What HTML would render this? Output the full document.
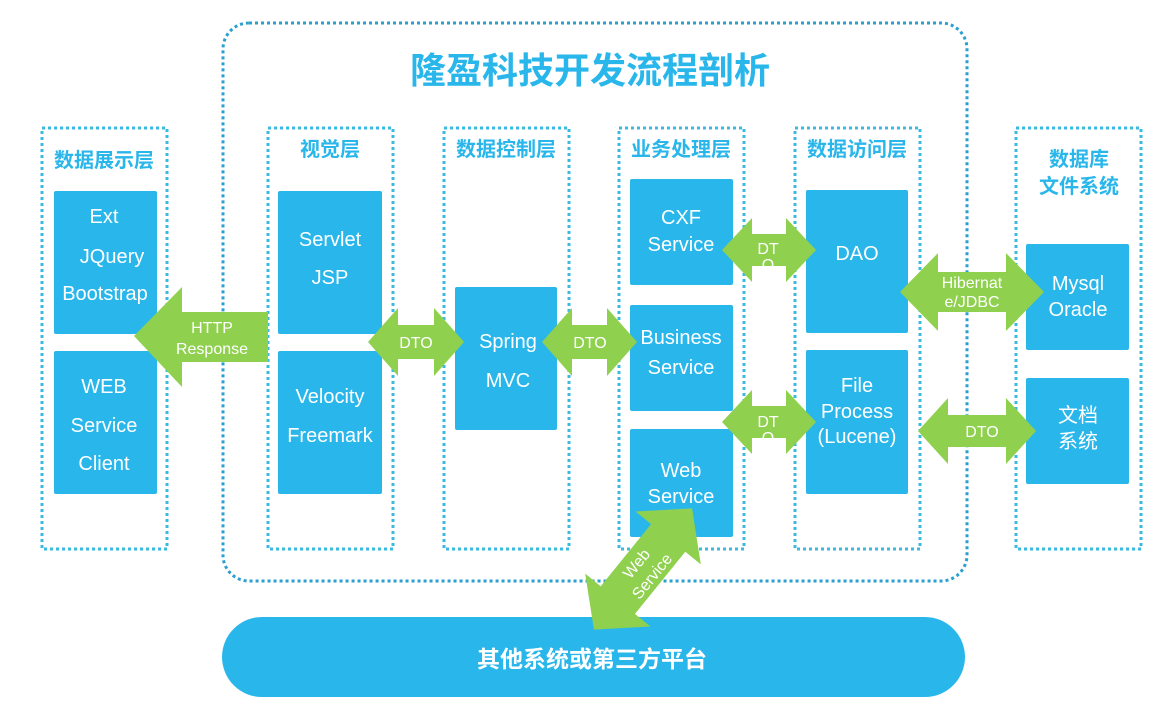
<!DOCTYPE html>
<html><head><meta charset="utf-8"><style>
html,body{margin:0;padding:0;background:#fff;}
svg{display:block;font-family:"Liberation Sans","Noto Sans CJK SC",sans-serif;}
.box{fill:#29b6ea;}
.bt{fill:#fff;font-size:20px;text-anchor:middle;}
.hd{fill:#29b6ea;font-size:20px;font-weight:bold;text-anchor:middle;}
.col{fill:none;stroke:#3bbadf;stroke-width:3;stroke-dasharray:3 3;}
.ar{fill:#8fd14f;}
.at{fill:#fff;font-size:16px;text-anchor:middle;}
</style></head><body>
<svg width="1176" height="719" viewBox="0 0 1176 719" xmlns="http://www.w3.org/2000/svg">
<rect x="223" y="23" width="744" height="558" rx="26" fill="none" stroke="#2a9fd0" stroke-width="3" stroke-dasharray="3 3"/>
<text x="590" y="83" fill="#29b6ea" font-size="36" font-weight="bold" text-anchor="middle">隆盈科技开发流程剖析</text>

<rect class="col" x="42" y="128" width="125" height="421"/>
<rect class="col" x="268" y="128" width="125" height="421"/>
<rect class="col" x="444" y="128" width="125" height="421"/>
<rect class="col" x="619" y="128" width="125" height="421"/>
<rect class="col" x="795" y="128" width="125" height="421"/>
<rect class="col" x="1016" y="128" width="125" height="421"/>

<text class="hd" x="104" y="167">数据展示层</text>
<text class="hd" x="330" y="156">视觉层</text>
<text class="hd" x="506" y="156">数据控制层</text>
<text class="hd" x="681" y="156">业务处理层</text>
<text class="hd" x="857" y="156">数据访问层</text>
<text class="hd" x="1079" y="166">数据库</text>
<text class="hd" x="1079" y="193">文件系统</text>

<rect class="box" x="54" y="191" width="103" height="143" rx="2"/>
<text class="bt" x="104" y="223">Ext</text>
<text class="bt" x="112" y="263">JQuery</text>
<text class="bt" x="105" y="300">Bootstrap</text>
<rect class="box" x="54" y="351" width="103" height="143" rx="2"/>
<text class="bt" x="104" y="393">WEB</text>
<text class="bt" x="104" y="432">Service</text>
<text class="bt" x="104" y="470">Client</text>

<rect class="box" x="278" y="191" width="104" height="143" rx="2"/>
<text class="bt" x="330" y="246">Servlet</text>
<text class="bt" x="330" y="284">JSP</text>
<rect class="box" x="278" y="351" width="104" height="143" rx="2"/>
<text class="bt" x="330" y="403">Velocity</text>
<text class="bt" x="330" y="442">Freemark</text>

<rect class="box" x="455" y="287" width="102" height="143" rx="2"/>
<text class="bt" x="508" y="348">Spring</text>
<text class="bt" x="508" y="387">MVC</text>

<rect class="box" x="630" y="179" width="103" height="106" rx="2"/>
<text class="bt" x="681" y="224">CXF</text>
<text class="bt" x="681" y="251">Service</text>
<rect class="box" x="630" y="305" width="103" height="106" rx="2"/>
<text class="bt" x="681" y="344">Business</text>
<text class="bt" x="681" y="374">Service</text>
<rect class="box" x="630" y="429" width="103" height="108" rx="2"/>
<text class="bt" x="681" y="477">Web</text>
<text class="bt" x="681" y="503">Service</text>

<rect class="box" x="806" y="190" width="102" height="143" rx="2"/>
<text class="bt" x="857" y="260">DAO</text>
<rect class="box" x="806" y="350" width="102" height="144" rx="2"/>
<text class="bt" x="857" y="392">File</text>
<text class="bt" x="857" y="418">Process</text>
<text class="bt" x="857" y="443">(Lucene)</text>

<rect class="box" x="1026" y="244" width="103" height="106" rx="2"/>
<text class="bt" x="1078" y="290">Mysql</text>
<text class="bt" x="1078" y="316">Oracle</text>
<rect class="box" x="1026" y="378" width="103" height="106" rx="2"/>
<text class="bt" x="1078" y="422">文档</text>
<text class="bt" x="1078" y="448">系统</text>

<rect x="222" y="617" width="743" height="80" rx="40" fill="#29b6ea"/>
<text x="592" y="667" fill="#fff" font-size="23" font-weight="bold" text-anchor="middle">其他系统或第三方平台</text>

<polygon class="ar" points="134,336 182,287 182,312 268,312 268,362 182,362 182,387"/>
<text class="at" x="212" y="333" font-size="15">HTTP</text>
<text class="at" x="212" y="354" font-size="15">Response</text>

<polygon class="ar" points="368,342 398,308 398,325 434,325 434,308 464,342 434,376 434,359 398,359 398,376"/>
<text class="at" x="416" y="348">DTO</text>
<polygon class="ar" points="542,342 572,308 572,325 607,325 607,308 637,342 607,376 607,359 572,359 572,376"/>
<text class="at" x="590" y="348">DTO</text>
<polygon class="ar" points="722,250 752,218 752,234 786,234 786,218 816,250 786,282 786,266 752,266 752,282"/>
<text class="at" x="768" y="254">DT</text>
<text class="at" x="768" y="270">O</text>
<polygon class="ar" points="722,422 752,390 752,406 786,406 786,390 816,422 786,454 786,438 752,438 752,454"/>
<text class="at" x="768" y="427">DT</text>
<text class="at" x="768" y="443">O</text>
<polygon class="ar" points="900,292 938,253 938,272 1006,272 1006,253 1044,292 1006,331 1006,312 938,312 938,331"/>
<text class="at" x="972" y="288" font-size="15">Hibernat</text>
<text class="at" x="972" y="307" font-size="15">e/JDBC</text>
<polygon class="ar" points="918,431 948,398 948,415 1006,415 1006,398 1036,431 1006,464 1006,447 948,447 948,464"/>
<text class="at" x="982" y="437">DTO</text>

<g transform="translate(643,569) rotate(-51)">
<polygon class="ar" points="-78,0 -40,-42 -40,-22 40,-22 40,-42 78,0 40,42 40,22 -40,22 -40,42"/>
<text class="at" x="0" y="-3" font-size="18">Web</text>
<text class="at" x="0" y="17" font-size="18">Service</text>
</g>
</svg>
</body></html>
